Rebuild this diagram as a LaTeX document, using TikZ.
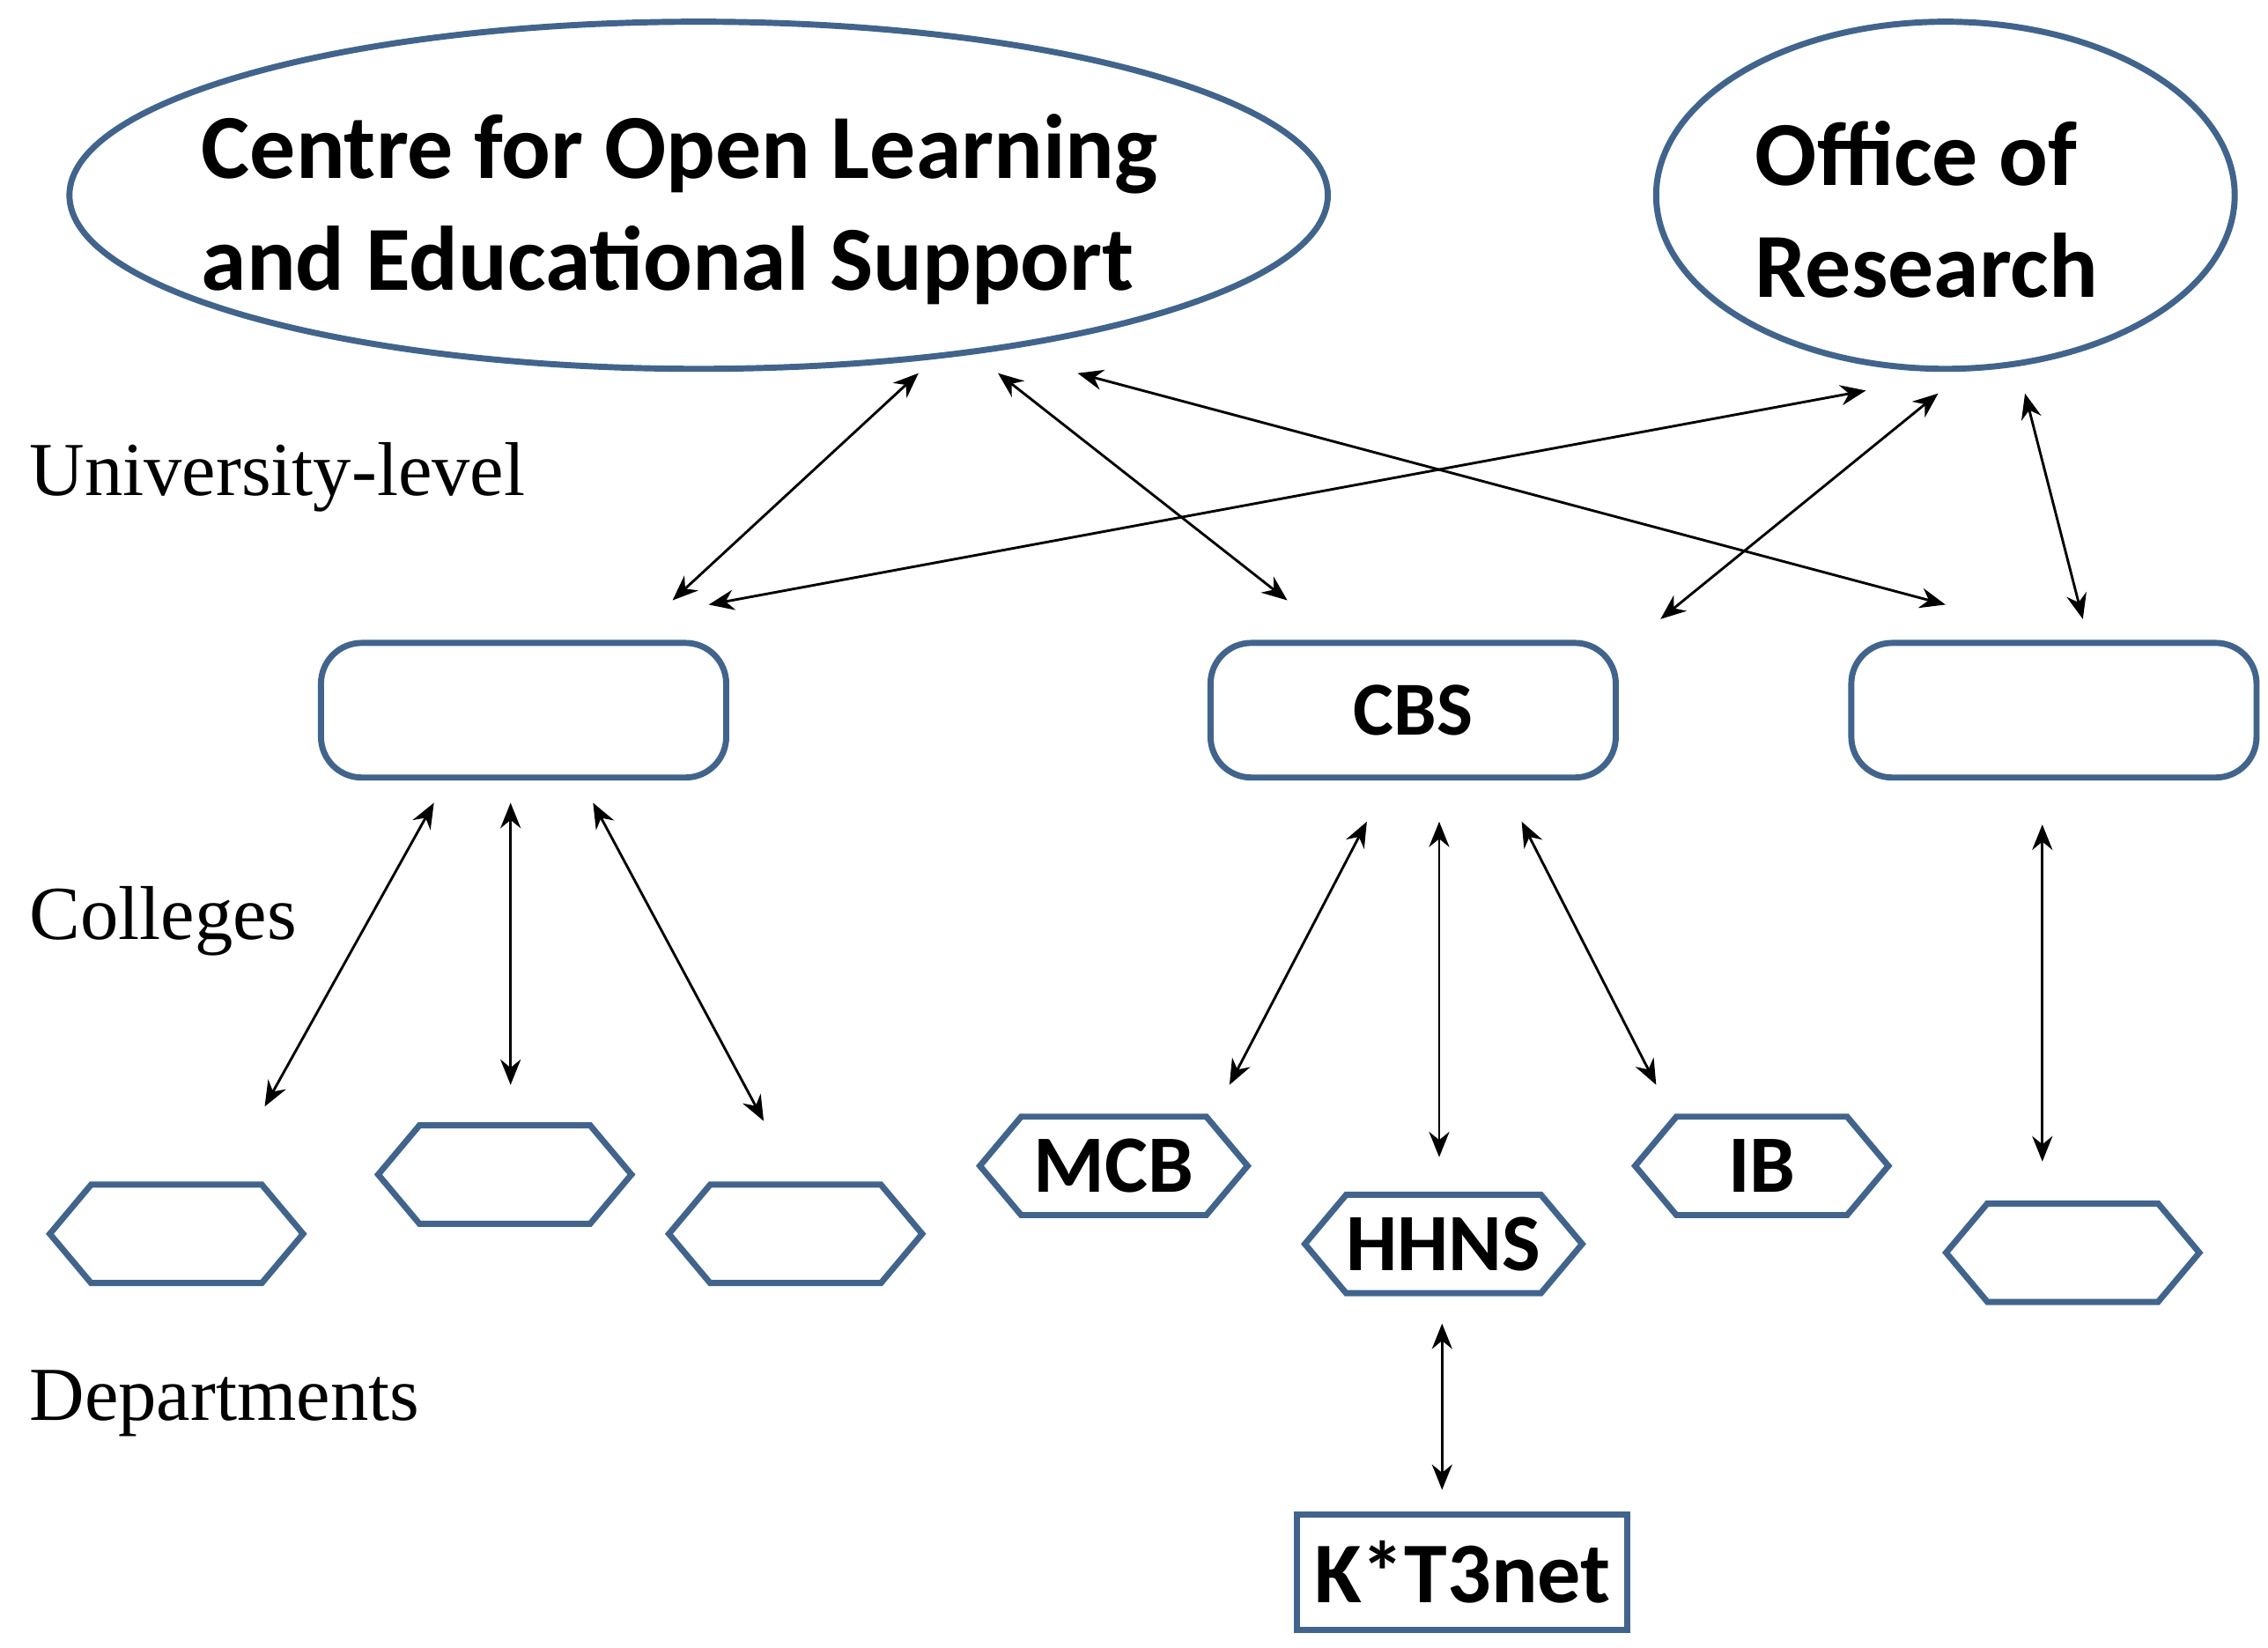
\documentclass[tikz,border=0pt]{standalone}
\usepackage{fontspec}
\setmainfont{Liberation Serif}
\newfontfamily\calfont{Carlito}
\usetikzlibrary{shapes.symbols,arrows.meta}
\definecolor{edge}{RGB}{65,100,140}
\begin{document}
\begin{tikzpicture}[x=0.01cm,y=-0.01cm,
  cbox/.style={draw=edge,line width=1.2pt,rounded corners=8pt,minimum width=2.8cm,minimum height=0.93cm,font=\calfont\bfseries\fontsize{15}{18}\selectfont},
  hexa/.style={draw=edge,line width=1.2pt,signal,signal to=west and east,signal pointer angle=100,minimum width=1.75cm,minimum height=0.68cm,inner sep=0,font=\calfont\bfseries\fontsize{16}{19}\selectfont},
  lvl/.style={anchor=west,font=\fontsize{15}{18}\selectfont},
  arr/.style={{Stealth[length=5pt,width=4pt]}-{Stealth[length=5pt,width=4pt]},line width=0.5pt}]
\useasboundingbox (0,0) rectangle (1568,1139);
\draw[edge,line width=1.2pt] (483,135) ellipse [x radius=435,y radius=120];
\node[font=\calfont\bfseries\fontsize{18}{22}\selectfont,align=left] (colt) at (470,145) {Centre for Open Learning\\and Educational Support};
\draw[edge,line width=1.2pt] (1345,135) ellipse [x radius=200,y radius=120];
\node[font=\calfont\bfseries\fontsize{18}{22}\selectfont,align=left] (ort) at (1332,145) {Office of\\Research};
\node[lvl] (u) at (8,330) {University-level};
\node[lvl] (c) at (8,637) {Colleges};
\node[lvl] (d) at (8,970) {Departments};
\node[cbox] (bl) at (362,491) {};
\node[cbox] (bc) at (977,491) {\raisebox{-4pt}{CBS}};
\node[cbox] (br) at (1420,491) {};
\node[hexa] (h1) at (122,853) {};
\node[hexa] (h2) at (349,812) {};
\node[hexa] (h3) at (550,853) {};
\node[hexa,minimum width=1.85cm] (mcb) at (770,806) {MCB};
\node[hexa,minimum width=1.85cm] (hhns) at (998,860) {HHNS};
\node[hexa] (ib) at (1218,806) {IB};
\node[hexa] (h7) at (1433,866) {};
\node[draw=edge,line width=1.2pt,minimum width=2.14cm,minimum height=0.8cm,font=\calfont\bfseries\fontsize{17}{20}\selectfont] (kt) at (1011,1087) {K*T3net};
\foreach \n/\x/\y in {a1/635/258,a2/465/415,b1/690/258,b2/890/415,c1/745/258,c2/1345/418,d1/1290/270,d2/490/418,e1/1340/272,e2/1148/428,f1/1400/272,f2/1440/428,g1/300/555,g2/183/765,i1/353/555,i2/353/750,j1/410/555,j2/528/775,k1/945/568,k2/850/750,l1/995/568,l2/995/800,m1/1052/568,m2/1145/750,n1/1412/570,n2/1412/803,o1/997/915,o2/997/1030}
  \coordinate (\n) at (\x,\y);
\foreach \p in {a,b,c,d,e,f,g,i,j,k,l,m,n,o}
  \draw[arr] (\p1) -- (\p2);
\end{tikzpicture}
\end{document}
